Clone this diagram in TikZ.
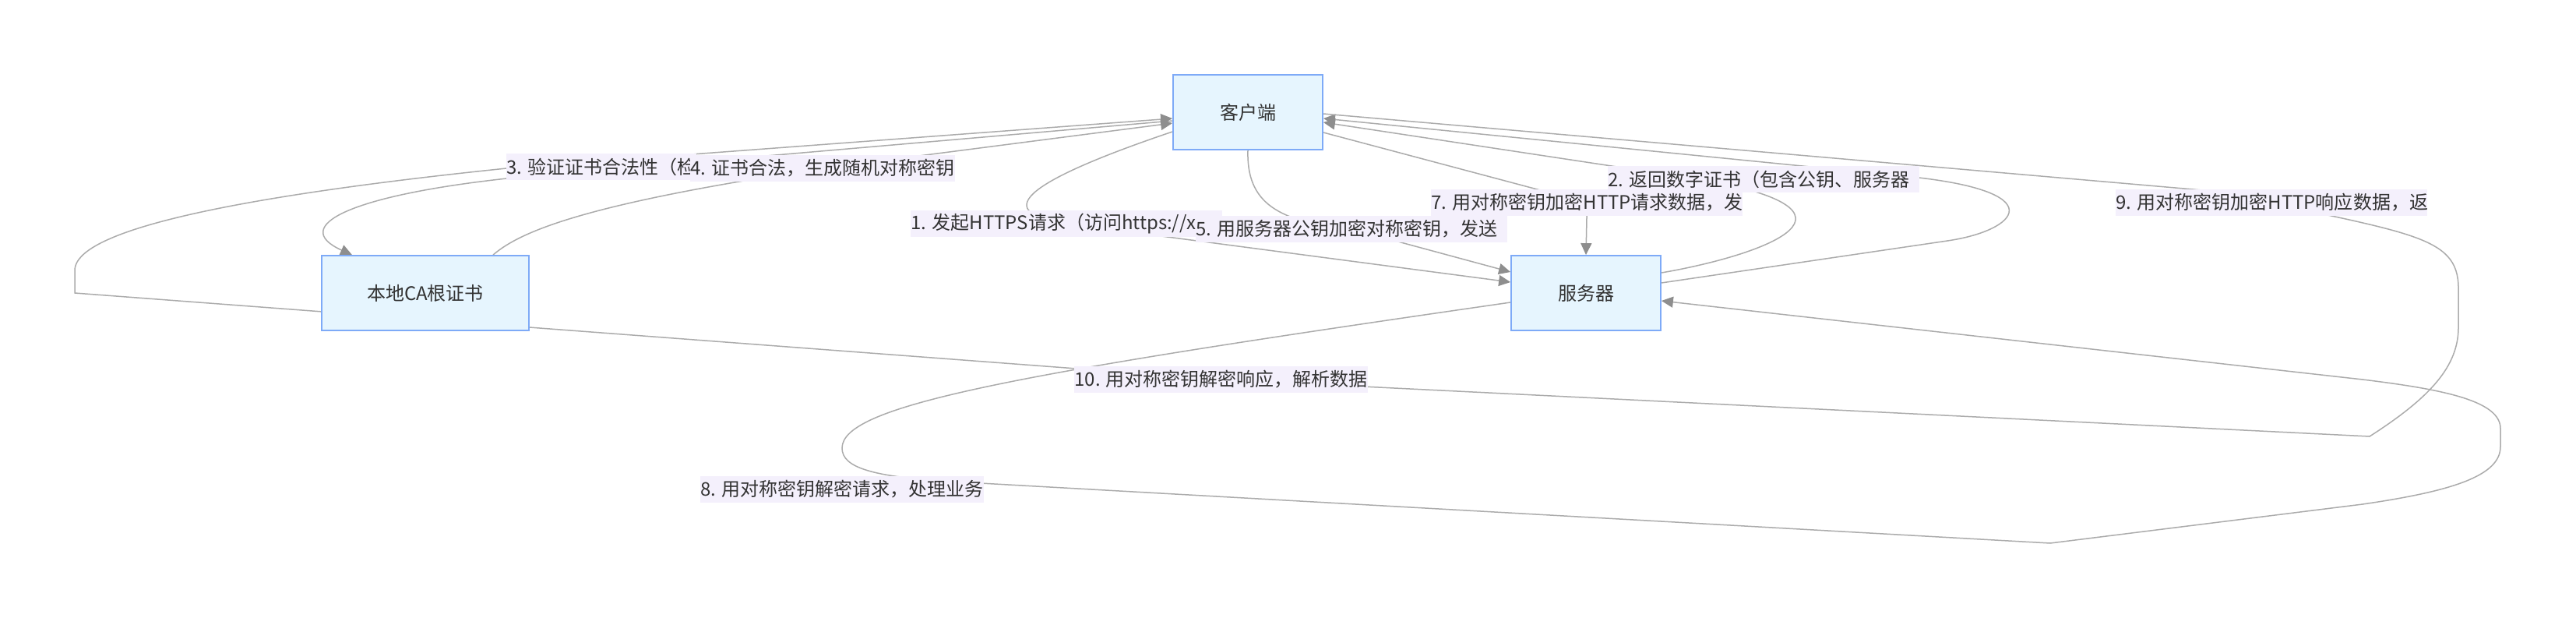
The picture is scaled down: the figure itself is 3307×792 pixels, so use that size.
\documentclass[tikz,border=0pt]{standalone}
\usepackage{fontspec}
\newfontfamily\cjk{Noto Sans CJK SC}
\usepackage{tikz}
\usetikzlibrary{arrows.meta,calc,backgrounds}
\usepackage{xcolor}
\definecolor{boxfill}{HTML}{E6F5FE}
\definecolor{boxline}{HTML}{7EAAF7}
\definecolor{lblfill}{HTML}{F4F0FC}
\definecolor{linegray}{HTML}{ABABAB}
\definecolor{tipgray}{HTML}{8E8E8E}
\definecolor{txtgray}{HTML}{333333}
\newcommand{\lblcut}[1]{\makebox[200pt][l]{#1}}

\begin{document}
\begin{tikzpicture}[
    x=0.5pt, y=-0.5pt,
    box/.style={rectangle, draw=boxline, fill=boxfill, line width=0.9pt, minimum width=96pt, minimum height=48pt, font=\cjk\fontsize{12pt}{14pt}\selectfont, text=txtgray},
    lbl/.style={anchor=west, fill=lblfill, inner xsep=0pt, inner ysep=0pt, minimum height=17pt, font=\cjk\fontsize{12pt}{14pt}\selectfont, text=txtgray},
    link/.style={draw=linegray, line width=0.75pt},
    linkarrow/.style={link, -{Triangle[length=7.5pt, width=7pt, color=tipgray]}},
]
    \useasboundingbox (0,0) rectangle (3307,792);

    \node[box] (client) at (1602,144) {客户端};
    \node[box, minimum width=133pt] (ca) at (546,376) {本地CA根证书};
    \node[box] (server) at (2036,376) {服务器};

    \node[lbl] (l3) at (650,214) {3. 验证证书合法性（检};
    \node[lbl] (l4) at (886,216) {4. 证书合法，生成随机对称密钥};
    \node[lbl] (l1) at (1169,287) {\lblcut{1. 发起HTTPS请求（访问https://x}};
    \node[lbl] (l5) at (1535,294) {\lblcut{5. 用服务器公钥加密对称密钥，发送}};
    \node[lbl] (l7) at (1837,260) {\lblcut{7. 用对称密钥加密HTTP请求数据，发}};
    \node[lbl] (l2) at (2064,230) {\lblcut{2. 返回数字证书（包含公钥、服务器}};
    \node[lbl] (l9) at (2716,260) {\lblcut{9. 用对称密钥加密HTTP响应数据，返}};
    \node[lbl] (l10) at (1379,487) {10. 用对称密钥解密响应，解析数据};
    \node[lbl] (l8) at (899,628) {8. 用对称密钥解密请求，处理业务};

    \begin{scope}[on background layer]
        % client to server
        \draw[linkarrow] ($(client.west)+(0,25)$) .. controls (1280,245) and (1290,275) .. (l1.center) -- ($(server.west)+(0,-14)$);
        \draw[linkarrow] (client.south) .. controls (1600,260) and (1640,285) .. (l5.center) -- ($(server.west)+(0,-27)$);
        \draw[linkarrow] ($(client.east)+(0,26)$) -- (l7.center) -- (server.north);
        % server to client
        \draw[linkarrow] ($(server.east)+(0,-26)$) .. controls (2250,330) and (2420,275) .. ($(l2.center)+(-70,2)$) -- ($(client.east)+(0,13)$);
        \draw[linkarrow] ($(server.east)+(0,-13)$) -- (2500,309) .. controls (2590,296) and (2640,245) .. ($(l2.east)+(-20,-4)$) -- ($(client.east)+(0,8)$);
        % client and CA
        \draw[linkarrow] ($(client.west)+(0,11)$) -- ($(l3.west)+(10,14)$) .. controls (450,250) and (370,290) .. ($(ca.north)+(-94,0)$);
        \draw[linkarrow] ($(ca.north)+(87,0)$) .. controls (670,295) and (760,260) .. (l4.center) -- ($(client.west)+(0,14)$);
        % loops
        \draw[linkarrow] ($(server.west)+(0,12)$) .. controls (1300,480) and (1081,520) .. (1081,575) .. controls (1081,600) and (1120,612) .. ($(l8.east)+(-40,-10)$) -- (2632,697) -- (3033,647) .. controls (3150,630) and (3210,610) .. (3210,573) -- (3210,550) .. controls (3210,515) and (3140,500) .. (3033,487) -- ($(server.east)+(0,10)$);
        \draw[linkarrow] ($(client.east)+(0,2)$) -- (2850,246) .. controls (3090,300) and (3156,300) .. (3156,370) -- (3156,420) .. controls (3156,470) and (3120,510) .. (3042,560) -- (l10.center) -- (96,376) -- (96,347) .. controls (96,310) and (200,262) .. ($(l3.west)+(10,1)$) -- ($(client.west)+(0,8)$);
    \end{scope}
\end{tikzpicture}
\end{document}
